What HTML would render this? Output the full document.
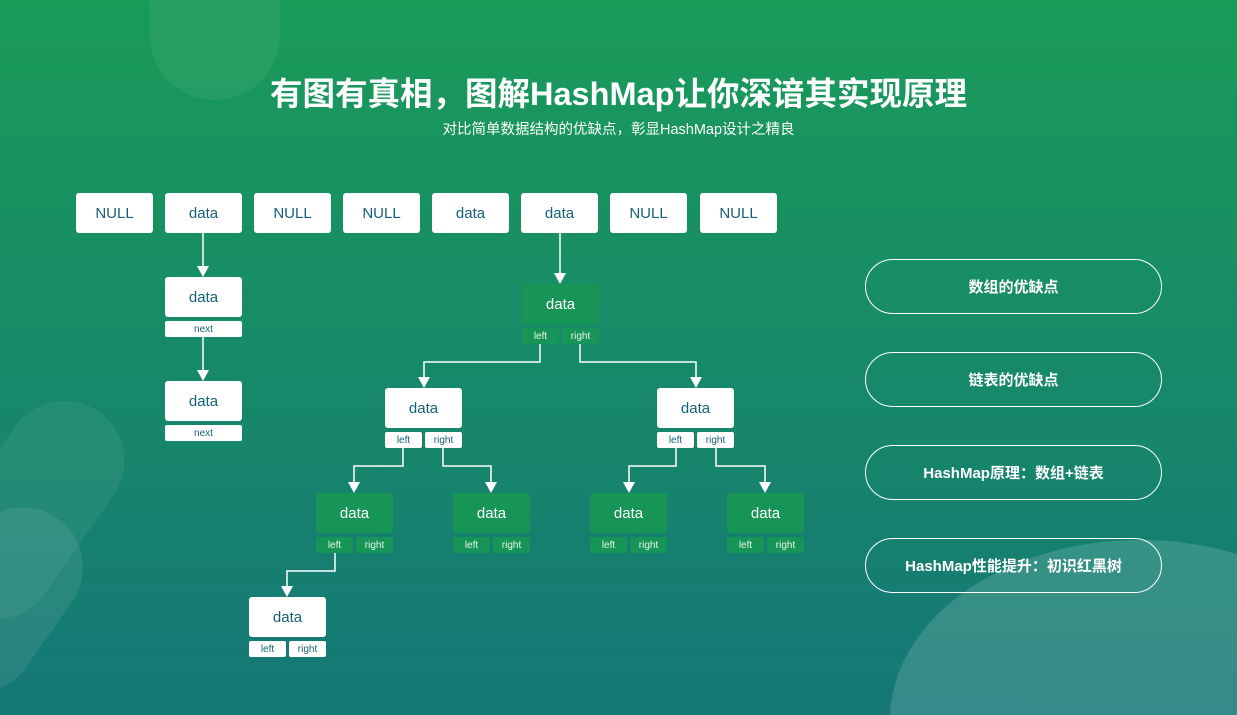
<!DOCTYPE html>
<html style="width:1237px;height:715px;overflow:hidden;background:#167777"><head><meta charset="utf-8"><style>
*{margin:0;padding:0;box-sizing:border-box}
body{width:1237px;height:715px;overflow:hidden;position:relative;font-family:"Liberation Sans","Noto Sans CJK SC",sans-serif;background:linear-gradient(180deg,#1a9b58 0%,#178a68 50%,#167777 100%)}
.clip{position:absolute;left:0;top:0;width:1237px;height:715px;overflow:hidden}
.deco{position:absolute;border-radius:50%;background:rgba(255,255,255,0.08)}
.n{position:absolute;width:77px;height:40px;background:#fff;border-radius:3px;color:#17607a;font-size:15px;display:flex;align-items:center;justify-content:center}
.g{background:#169556;color:#fff}
.s{position:absolute;height:16px;background:#fff;border-radius:2px;color:#17607a;font-size:10px;display:flex;align-items:center;justify-content:center}
.sg{background:#169556;color:#e8f5ee}
.btn{position:absolute;left:865px;width:297px;height:55px;border:1.5px solid #fff;border-radius:28px;color:#fff;font-weight:bold;font-size:15px;display:flex;align-items:center;justify-content:center}
h1{position:absolute;top:68px;left:0;width:1237px;text-align:center;color:#fff;font-size:32.5px;font-weight:bold;white-space:nowrap}
.sub{position:absolute;top:118px;left:0;width:1237px;text-align:center;color:#fff;font-size:14.5px}
svg{position:absolute;left:0;top:0}
</style></head><body>
<div class="clip">
<div class="deco" style="left:150px;top:-120px;width:130px;height:220px;border-radius:65px;background:rgba(255,255,255,0.06)"></div>
<div class="deco" style="left:-30px;top:390px;width:120px;height:240px;border-radius:60px;transform:rotate(35deg);background:rgba(255,255,255,0.06)"></div>
<div class="deco" style="left:-60px;top:500px;width:120px;height:200px;border-radius:60px;transform:rotate(35deg);background:rgba(255,255,255,0.08)"></div>
<div class="deco" style="left:890px;top:540px;width:500px;height:360px;background:rgba(255,255,255,0.14)"></div>
</div>
<h1>有图有真相，图解HashMap让你深谙其实现原理</h1>
<div class="sub">对比简单数据结构的优缺点，彰显HashMap设计之精良</div>

<svg width="1237" height="715">
<g stroke="#fff" stroke-width="1.5" fill="none">
<polyline points="203,233 203,268"/><polyline points="203,337 203,372"/>
<polyline points="560,233 560,275"/>
<polyline points="540,344 540,362 424,362 424,379"/>
<polyline points="580,344 580,362 696,362 696,379"/>
<polyline points="403,448 403,466 354,466 354,484"/>
<polyline points="443,448 443,466 491,466 491,484"/>
<polyline points="676,448 676,466 629,466 629,484"/>
<polyline points="716,448 716,466 765,466 765,484"/>
<polyline points="335,553 335,571 287,571 287,588"/>
</g>
<g fill="#fff">
<path d="M197,266 L209,266 L203,277z"/><path d="M197,370 L209,370 L203,381z"/>
<path d="M554,273 L566,273 L560,284z"/>
<path d="M418,377 L430,377 L424,388z"/><path d="M690,377 L702,377 L696,388z"/>
<path d="M348,482 L360,482 L354,493z"/><path d="M485,482 L497,482 L491,493z"/>
<path d="M623,482 L635,482 L629,493z"/><path d="M759,482 L771,482 L765,493z"/>
<path d="M281,586 L293,586 L287,597z"/>
</g>
</svg>

<div class="n" style="left:76px;top:193px">NULL</div>
<div class="n" style="left:165px;top:193px">data</div>
<div class="n" style="left:254px;top:193px">NULL</div>
<div class="n" style="left:343px;top:193px">NULL</div>
<div class="n" style="left:432px;top:193px">data</div>
<div class="n" style="left:521px;top:193px">data</div>
<div class="n" style="left:610px;top:193px">NULL</div>
<div class="n" style="left:700px;top:193px">NULL</div>

<div class="n" style="left:165px;top:277px">data</div>
<div class="s" style="left:165px;top:321px;width:77px">next</div>
<div class="n" style="left:165px;top:381px">data</div>
<div class="s" style="left:165px;top:425px;width:77px">next</div>

<div class="n g" style="left:522px;top:284px">data</div>
<div class="s sg" style="left:522px;top:328px;width:37px">left</div>
<div class="s sg" style="left:562px;top:328px;width:37px">right</div>

<div class="n" style="left:385px;top:388px">data</div>
<div class="s" style="left:385px;top:432px;width:37px">left</div>
<div class="s" style="left:425px;top:432px;width:37px">right</div>
<div class="n" style="left:657px;top:388px">data</div>
<div class="s" style="left:657px;top:432px;width:37px">left</div>
<div class="s" style="left:697px;top:432px;width:37px">right</div>

<div class="n g" style="left:316px;top:493px">data</div>
<div class="s sg" style="left:316px;top:537px;width:37px">left</div>
<div class="s sg" style="left:356px;top:537px;width:37px">right</div>
<div class="n g" style="left:453px;top:493px">data</div>
<div class="s sg" style="left:453px;top:537px;width:37px">left</div>
<div class="s sg" style="left:493px;top:537px;width:37px">right</div>
<div class="n g" style="left:590px;top:493px">data</div>
<div class="s sg" style="left:590px;top:537px;width:37px">left</div>
<div class="s sg" style="left:630px;top:537px;width:37px">right</div>
<div class="n g" style="left:727px;top:493px">data</div>
<div class="s sg" style="left:727px;top:537px;width:37px">left</div>
<div class="s sg" style="left:767px;top:537px;width:37px">right</div>

<div class="n" style="left:249px;top:597px">data</div>
<div class="s" style="left:249px;top:641px;width:37px">left</div>
<div class="s" style="left:289px;top:641px;width:37px">right</div>

<div class="btn" style="top:259px">数组的优缺点</div>
<div class="btn" style="top:352px">链表的优缺点</div>
<div class="btn" style="top:445px">HashMap原理：数组+链表</div>
<div class="btn" style="top:538px">HashMap性能提升：初识红黑树</div>
</body></html>
